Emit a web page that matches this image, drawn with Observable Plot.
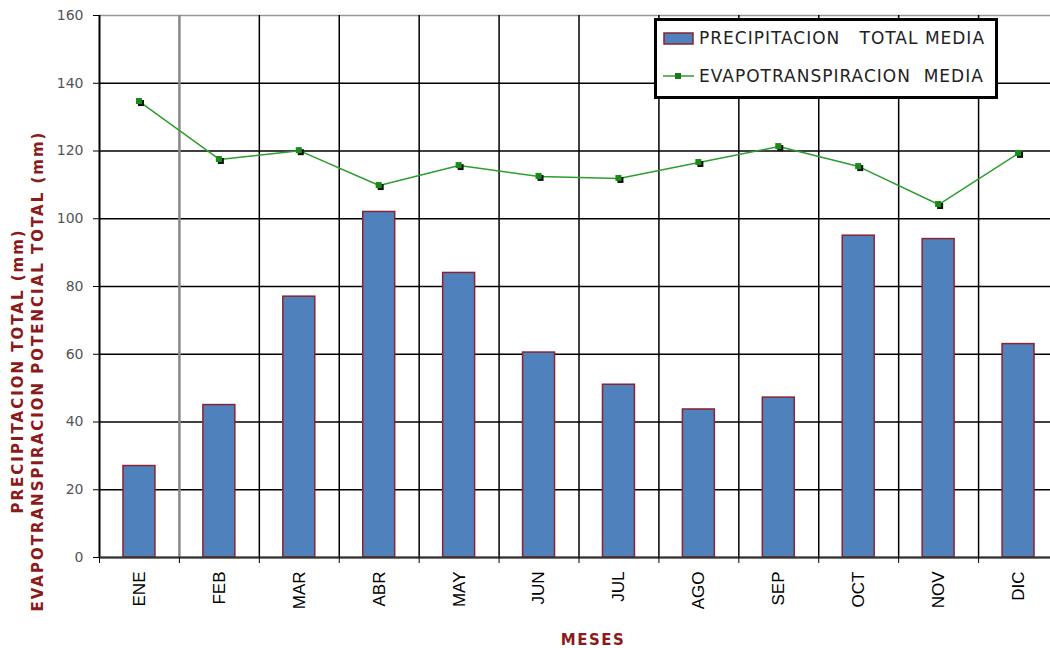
<!DOCTYPE html>
<html><head><meta charset="utf-8">
<script src="https://cdn.jsdelivr.net/npm/d3@7"></script>
<script src="https://cdn.jsdelivr.net/npm/@observablehq/plot@0.6"></script>
<style>
body{margin:0;background:#fff;font-family:Verdana,"DejaVu Sans",sans-serif}
#wrap{position:relative;width:1050px;height:648px;overflow:hidden}
.ytitle{position:absolute;left:0;top:0;white-space:nowrap;color:#8B1A1A;font-weight:bold;font-size:15px;letter-spacing:2px;transform-origin:0 0}
#xtitle{position:absolute;left:593px;top:633px;line-height:15px;transform:translateX(-50%);color:#8B1A1A;font-weight:bold;font-size:15px;letter-spacing:1.5px}
#legend{position:absolute;left:654px;top:18px;width:338px;height:75px;border:3px solid #000;background:#fff;font-size:17px;letter-spacing:1px;color:#222;font-family:"DejaVu Sans",Verdana,sans-serif}
.li{position:absolute;left:6px;display:flex;align-items:center;white-space:pre}
</style>
</head><body><div id="wrap"></div>
<script>
const months=["ENE","FEB","MAR","ABR","MAY","JUN","JUL","AGO","SEP","OCT","NOV","DIC"];
const precip=[27,45,77,102,84,60.5,51,43.7,47.2,95,94,63];
const evap=[134.6,117.5,120.1,109.8,115.7,112.5,111.9,116.6,121.3,115.4,104.2,119.3];
const yTicks=[0,20,40,60,80,100,120,140,160];
const seriesNames=["PRECIPITACION   TOTAL MEDIA","EVAPOTRANSPIRACION  MEDIA"];
const yTitle1="PRECIPITACION TOTAL (mm)";
const yTitle2="EVAPOTRANSPIRACION POTENCIAL TOTAL (mm)";
const xTitle="MESES";

const data=months.map((m,i)=>({m,i,p:precip[i],e:evap[i]}));
const boundaries=d3.range(0,13);
const centers=d3.range(12).map(i=>i+0.5);
const barColor="#4F81BD", barStroke="#8B2331", lineColor="#2E9E2E";

const chart=Plot.plot({
  width:1050,height:648,
  marginLeft:99,marginRight:0,marginTop:15,marginBottom:91,
  style:{fontFamily:'Verdana,"DejaVu Sans",sans-serif',background:"#fff"},
  x:{type:"linear",domain:[0,12],range:[99,1058]},
  y:{domain:[0,160],range:[557,15]},
  marks:[
    Plot.ruleY(yTicks.filter(v=>v<160),{stroke:"#000",strokeWidth:1.5}),
    Plot.ruleY([160],{stroke:"#999",strokeWidth:1.5}),
    Plot.ruleX(boundaries.filter(b=>b>1),{y1:0,y2:160,stroke:"#000",strokeWidth:1.5}),
    Plot.ruleX([1],{y1:0,y2:160,stroke:"#888",strokeWidth:2.5}),
    Plot.rectY(data,{x1:d=>d.i+0.3,x2:d=>d.i+0.7,y1:0,y2:"p",fill:barColor,stroke:barStroke,strokeWidth:1.5}),
    Plot.line(data,{x:d=>d.i+0.5,y:"e",stroke:lineColor,strokeWidth:1.5}),
    Plot.dot(data,{x:d=>d.i+0.5,y:"e",symbol:"square",r:3.4,fill:"#111",dx:1.5,dy:1.5}),
    Plot.dot(data,{x:d=>d.i+0.5,y:"e",symbol:"square",r:3.4,fill:"#1a8a1a",dx:-0.5,dy:-0.5}),
    Plot.axisY(yTicks,{tickSize:6,tickPadding:10,fontSize:14,fill:"#555",stroke:"#000",label:null}),
    Plot.ruleX([0],{y1:0,y2:160,stroke:"#000",strokeWidth:2}),
    Plot.ruleY([0],{stroke:"#333",strokeWidth:2}),
    Plot.axisX(boundaries,{tickSize:6,tickFormat:()=>"",stroke:"#000",label:null}),
    Plot.axisX(centers,{tickSize:0,tickPadding:14,tickRotate:-90,tickFormat:c=>months[Math.floor(c)],fontSize:17,fontFamily:'"Liberation Sans",Arial,sans-serif',fill:"#000",label:null})
  ]
});
const wrap=document.getElementById("wrap");
wrap.appendChild(chart);

function addRot(text,cx,cy){
  const d=document.createElement("div");
  d.className="ytitle";d.textContent=text;wrap.appendChild(d);
  const w=d.offsetWidth,h=d.offsetHeight;
  d.style.transform=`translate(${cx-h/2}px,${cy+w/2}px) rotate(-90deg)`;
}
addRot(yTitle1,18,371);
addRot(yTitle2,38,371);

const xt=document.createElement("div");xt.id="xtitle";xt.textContent=xTitle;wrap.appendChild(xt);

const lg=document.createElement("div");lg.id="legend";
lg.innerHTML=`<div class="li" style="top:7px"><svg width="32" height="14" style="margin-right:4px"><rect x="1" y="2" width="29" height="11" fill="${barColor}" stroke="${barStroke}" stroke-width="1.5"/></svg>${seriesNames[0]}</div>
<div class="li" style="top:45px"><svg width="32" height="14" style="margin-right:4px"><line x1="0" y1="7" x2="31" y2="7" stroke="${lineColor}" stroke-width="1.5"/><rect x="12" y="4" width="6" height="6" fill="#1a7a1a"/></svg>${seriesNames[1]}</div>`;
wrap.appendChild(lg);
</script>
</body></html>
